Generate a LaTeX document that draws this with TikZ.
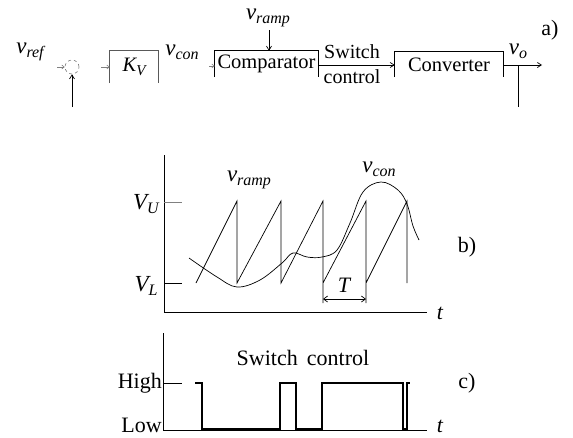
\documentclass[tikz,border=0pt]{standalone}
\usepackage{fontspec}
\setmainfont{Liberation Serif}
\usetikzlibrary{arrows.meta,calc}
\newcommand{\myvsub}[2]{{\fontsize{23}{23}\selectfont\itshape #1}\raisebox{-4pt}{\fontsize{16}{16}\selectfont\itshape #2}}
\begin{document}
\begin{tikzpicture}[x=1pt,y=-1pt,
  blk/.style={inner sep=0pt, font=\fontsize{20.5}{20.5}\selectfont},
  lbl/.style={inner sep=0pt, font=\fontsize{20}{20}\selectfont},
  big/.style={inner sep=0pt, font=\fontsize{22}{22}\selectfont},
  stub/.style={gray, line width=0.6pt, -{Straight Barb[length=2.5pt,width=4pt]}},
  conn/.style={line width=0.7pt, -{Straight Barb[length=4pt,width=5pt]}},
  axis/.style={line width=0.9pt},
  sig/.style={line width=0.7pt},
  sq/.style={line width=2.8pt, line join=miter}]
\useasboundingbox (0,0) rectangle (573,437);

% ---------- a) block diagram ----------
\node[lbl] (vref) at (30,52) {\myvsub{v}{ref}};
\node[draw=gray, dashed, circle, minimum size=14pt, inner sep=0pt, line width=0.6pt] (sum) at (72,67) {};
\coordinate (sumin) at (57,67);
\coordinate (fb) at (72,107);
\draw[stub] (sumin) -- (sum.west);
\draw[conn] (fb) -- (sum.south);

\node[blk, minimum width=48pt, minimum height=32pt] (kv) at (134,67) {\itshape K\raisebox{-4pt}{\fontsize{15}{15}\selectfont V}};
\draw[line width=0.8pt, gray!70!black] (kv.south west) |- (kv.north east) -- (kv.south east);
\coordinate (kvin) at (101,67);
\draw[stub] (kvin) -- (kv.west);

\node[lbl] (vcon) at (182,52) {\myvsub{v}{con}};

\node[blk, minimum width=103pt, minimum height=26pt] (cmp) at (266.5,64) {Comparator};
\draw[line width=0.8pt] (cmp.south west) |- (cmp.north east) -- (cmp.south east);
\coordinate (cmpin) at (209,66);
\draw[stub] (cmpin) -- (cmp.west |- cmpin);
\node[lbl] (vramp) at (268,18) {\myvsub{v}{ramp}};
\coordinate (rs) at (269,30);
\draw[conn] (rs) -- (rs |- cmp.north);

\node[blk, minimum width=108pt, minimum height=25pt] (conv) at (449,64.5) {Converter};
\draw[line width=0.8pt] (conv.south west) |- (conv.north east) -- (conv.south east);

\draw[conn] (cmp.east |- 0,65) -- (conv.west |- 0,65);
\node[lbl] (sw) at (352,52) {Switch};
\node[lbl] (ctl) at (352,77) {control};

\node[lbl] (vo) at (518,51) {\myvsub{v}{o}};
\coordinate (out) at (542,65);
\coordinate (tap) at (518,65);
\coordinate (tapend) at (518,107);
\draw[conn] (conv.east |- 0,65) -- (out);
\draw[line width=0.7pt] (tap) -- (tapend);

\node[big] (la) at (550,30) {a)};

% ---------- b) waveforms ----------
\draw[axis] (164,155) -- (164,312) -- (427,312);
\draw[line width=0.8pt, gray] (164,202) -- (182,202);
\draw[line width=0.9pt] (164,283) -- (182,283);
\node[lbl] (vu) at (146,204) {\myvsub{V}{U}};
\node[lbl] (vl) at (146,286) {\myvsub{V}{L}};
\node[big] (tb) at (440,313) {\itshape t};
\node[big] (lb) at (467,247) {b)};

% ramp
\draw[sig] (196,283) -- (237,201) -- (237,283) -- (281,201) -- (281,283) -- (323,201) -- (323,303)
  (323,283) -- (366,201) -- (366,303)
  (366,283) -- (407,201) -- (407,283);
\node[lbl] (lramp) at (249,180) {\myvsub{v}{ramp}};

% control voltage
\draw[sig] plot[smooth, tension=0.6] coordinates {(189,258) (217,277) (237,287) (260,280) (282,263) (293,253) (307,257) (322,257) (337,250) (350,223) (363,192) (381,182) (398,190) (407,204) (413,226) (419,240)};
\node[lbl] (lcon) at (379,169) {\myvsub{v}{con}};

% period
\coordinate (ta) at (323,299);
\coordinate (tb2) at (366,299);
\draw[line width=0.7pt, {Straight Barb[length=4pt,width=6pt]}-{Straight Barb[length=4pt,width=6pt]}] (ta) -- (tb2);
\node[big] (tT) at (344,285) {\itshape T};

% ---------- c) switch control ----------
\draw[axis] (163,333) -- (163,430) -- (427,430);
\draw[line width=0.8pt] (163,383) -- (182,383);
\node[big, anchor=east] (high) at (162,383) {High};
\node[big, anchor=east] (low) at (162,425) {Low};
\node[big] (tc) at (440,426) {\itshape t};
\node[big] (swc) at (303,358) {Switch\,  control};
\node[big] (lc) at (467,383) {c)};
\draw[sq] (195,383) -- (202,383) -- (202,429) -- (280,429) -- (280,383) -- (296,383) -- (296,429)
  -- (322,429) -- (322,383) -- (403,383) -- (403,429) -- (407,429) -- (407,383) -- (410,383);
\end{tikzpicture}
\end{document}
